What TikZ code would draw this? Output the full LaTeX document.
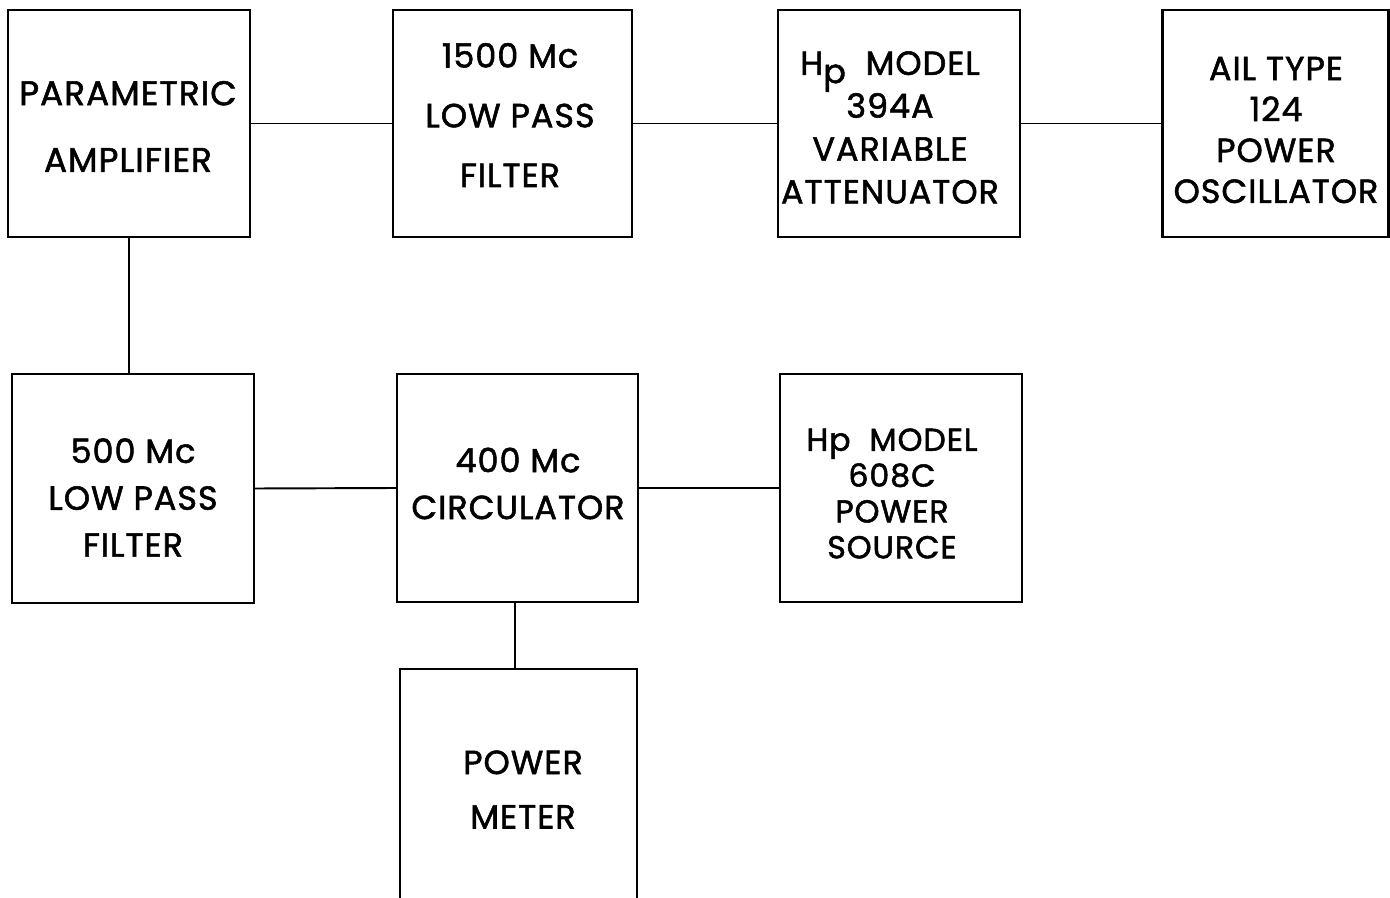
\documentclass[tikz,border=0pt]{standalone}
\usepackage{fontspec}
\setmainfont{Poppins}[FakeBold=1.6]
\newcommand{\fzs}[2]{\fontsize{#1}{#2}\selectfont\addfontfeature{LetterSpace=3}}
\begin{document}
\begin{tikzpicture}[x=0.02cm,y=-0.02cm,
  box/.style={draw=black,line width=1.2pt,rectangle,inner sep=0pt},
  lbl/.style={align=center,inner sep=0pt,text=black},
  wire/.style={draw=black,line width=1.1pt}]
\useasboundingbox[fill=white] (0,0) rectangle (1390,898);
\begin{scope}
\clip (0,0) rectangle (1390,898);
% boxes
\node[box,minimum width=4.84cm,minimum height=4.54cm] (b1) at (129,123.5) {};
\node[box,minimum width=4.78cm,minimum height=4.54cm] (b2) at (512.5,123.5) {};
\node[box,minimum width=4.84cm,minimum height=4.54cm] (b3) at (899,123.5) {};
\node[box,minimum width=4.52cm,minimum height=4.54cm] (b4) at (1275.5,123.5) {};
\node[box,minimum width=4.84cm,minimum height=4.58cm] (b5) at (133,488.5) {};
\node[box,minimum width=4.82cm,minimum height=4.56cm] (b6) at (517.5,488) {};
\node[box,minimum width=4.84cm,minimum height=4.56cm] (b7) at (901,488) {};
\node[box,minimum width=4.74cm,minimum height=5.22cm] (b8) at (518.5,799.5) {};
% labels
\node[lbl,font={\fzs{19.5pt}{38pt}}] (t1) at (128,126.5) {PARAMETRIC\\AMPLIFIER};
\node[lbl,font={\fzs{19pt}{34pt}}] (t2) at (510,115) {1500 Mc\\LOW PASS\\FILTER};
\node[lbl,font={\fzs{19pt}{24.4pt}}] (t3) at (890,127.5) {H\raisebox{-0.45ex}{p}\ \ MODEL\\394A\\VARIABLE\\ATTENUATOR};
\node[lbl,font={\fzs{19pt}{23.3pt}}] (t4) at (1276,130) {AIL TYPE\\124\\POWER\\OSCILLATOR};
\node[lbl,font={\fzs{19pt}{26.7pt}}] (t5) at (133,497.5) {500 Mc\\LOW PASS\\FILTER};
\node[lbl,font={\fzs{19pt}{26.7pt}}] (t6) at (518,483.5) {400 Mc\\CIRCULATOR};
\node[lbl,font={\fzs{18pt}{20.4pt}}] (t7) at (892,493.5) {Hp\ \ MODEL\\608C\\POWER\\SOURCE};
\node[lbl,font={\fzs{19pt}{31pt}}] (t8) at (523,789.5) {POWER\\METER};
% connectors
\draw[wire] (b1.east) -- (b2.west);
\draw[wire] (b2.east) -- (b3.west);
\draw[wire] (b3.east) -- (b4.west);
\draw[wire] (b5.east) -- (b6.west);
\draw[wire] (b6.east) -- (b7.west);
\draw[wire] (b1.south) -- (b1.south |- b5.north);
\draw[wire] ([xshift=-0.05cm]b6.south) -- ([xshift=-0.05cm]b6.south |- b8.north);
\end{scope}
\end{tikzpicture}
\end{document}
